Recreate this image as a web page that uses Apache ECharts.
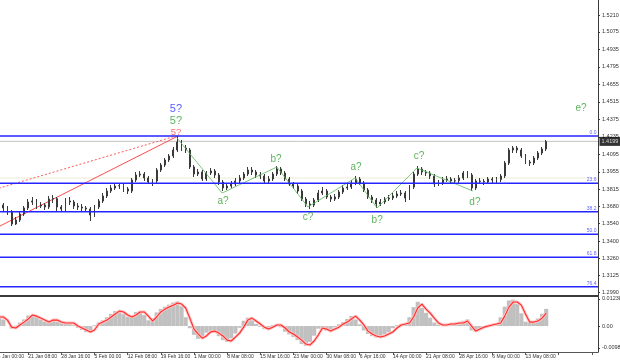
<!DOCTYPE html>
<html><head><meta charset="utf-8">
<script src="https://cdn.jsdelivr.net/npm/echarts@6/dist/echarts.min.js"></script>
<style>html,body{margin:0;padding:0;background:#fff}#c{width:620px;height:361px}</style>
</head><body><div id="c"></div>
<script>
// ---- data (16-hour slots; slot 0 = 14 Jan 00:00) ----
const tickLabels = ['14 Jan 00:00','21 Jan 08:00','28 Jan 16:00','5 Feb 00:00','12 Feb 08:00','19 Feb 16:00','1 Mar 00:00','8 Mar 08:00','15 Mar 16:00','23 Mar 00:00','30 Mar 08:00','6 Apr 16:00','14 Apr 00:00','21 Apr 08:00','28 Apr 16:00','6 May 00:00','13 May 08:00'];
const slotCount = 146;
const priceLabels = ['1.5210','1.5075','1.4935','1.4795','1.4655','1.4515','1.4375','1.4235','1.4095','1.3955','1.3815','1.3680','1.3540','1.3400','1.3260','1.3125','1.2990'];
const oscLabels = ['0.01238','0.00','-0.00988'];
const oscTicks = [0.01238, 0, -0.00988];

const opens = [1.3706,1.3690,1.3666,1.3634,1.3538,1.3570,1.3618,1.3666,1.3714,1.3722,
1.3682,1.3690,1.3674,1.3738,1.3741,1.3674,1.3658,1.3722,1.3714,1.3682,
1.3674,1.3666,1.3658,1.3610,1.3674,1.3722,1.3762,1.3802,1.3826,1.3842,
1.3845,1.3818,1.3802,1.3890,1.3930,1.3938,1.3906,1.3874,1.3882,1.3970,
1.4010,1.4050,1.4082,1.4130,1.4194,1.4146,1.4130,1.3994,1.3938,1.3954,
1.3898,1.3946,1.3962,1.3930,1.3874,1.3826,1.3842,1.3858,1.3882,1.3906,
1.3938,1.3970,1.3954,1.3930,1.3922,1.3882,1.3898,1.3938,1.3978,1.3946,
1.3898,1.3858,1.3842,1.3802,1.3738,1.3698,1.3690,1.3730,1.3786,1.3802,
1.3754,1.3738,1.3754,1.3794,1.3826,1.3834,1.3866,1.3898,1.3866,1.3810,
1.3754,1.3730,1.3698,1.3714,1.3738,1.3746,1.3762,1.3778,1.3786,1.3746,
1.3834,1.3938,1.3978,1.3954,1.3946,1.3922,1.3858,1.3866,1.3890,1.3898,
1.3882,1.3885,1.3906,1.3946,1.3930,1.3826,1.3882,1.3879,1.3874,1.3898,
1.3890,1.3893,1.3922,1.4026,1.4130,1.4146,1.4130,1.4082,1.4034,1.4026,
1.4066,1.4106,1.4138];
const closes = [1.3690,1.3666,1.3634,1.3538,1.3570,1.3618,1.3666,1.3714,1.3722,1.3682,
1.3690,1.3674,1.3738,1.3741,1.3674,1.3658,1.3722,1.3714,1.3682,1.3674,
1.3666,1.3658,1.3610,1.3674,1.3722,1.3762,1.3802,1.3826,1.3842,1.3845,
1.3818,1.3802,1.3890,1.3930,1.3938,1.3906,1.3874,1.3882,1.3970,1.4010,
1.4050,1.4082,1.4130,1.4194,1.4146,1.4130,1.3994,1.3938,1.3954,1.3898,
1.3946,1.3962,1.3930,1.3874,1.3826,1.3842,1.3858,1.3882,1.3906,1.3938,
1.3970,1.3954,1.3930,1.3922,1.3882,1.3898,1.3938,1.3978,1.3946,1.3898,
1.3858,1.3842,1.3802,1.3738,1.3698,1.3690,1.3730,1.3786,1.3802,1.3754,
1.3738,1.3754,1.3794,1.3826,1.3834,1.3866,1.3898,1.3866,1.3810,1.3754,
1.3730,1.3698,1.3714,1.3738,1.3746,1.3762,1.3778,1.3786,1.3746,1.3834,
1.3938,1.3978,1.3954,1.3946,1.3922,1.3858,1.3866,1.3890,1.3898,1.3882,
1.3885,1.3906,1.3946,1.3930,1.3826,1.3882,1.3879,1.3874,1.3898,1.3890,
1.3893,1.3922,1.4026,1.4130,1.4146,1.4130,1.4082,1.4034,1.4026,1.4066,
1.4106,1.4138,1.4199];
const highs = [1.3730,1.3706,1.3682,1.3650,1.3594,1.3634,1.3682,1.3738,1.3754,1.3738,
1.3714,1.3706,1.3762,1.3770,1.3754,1.3690,1.3746,1.3754,1.3730,1.3706,
1.3698,1.3682,1.3674,1.3690,1.3738,1.3786,1.3826,1.3850,1.3866,1.3866,
1.3858,1.3834,1.3906,1.3954,1.3962,1.3954,1.3922,1.3898,1.3986,1.4026,
1.4066,1.4098,1.4154,1.4242,1.4210,1.4170,1.4146,1.4010,1.3978,1.3970,
1.3962,1.3986,1.3978,1.3946,1.3890,1.3858,1.3882,1.3906,1.3930,1.3954,
1.3994,1.3994,1.3970,1.3954,1.3938,1.3922,1.3954,1.4002,1.3994,1.3962,
1.3914,1.3874,1.3858,1.3818,1.3754,1.3722,1.3746,1.3810,1.3834,1.3818,
1.3770,1.3778,1.3810,1.3850,1.3858,1.3890,1.3922,1.3914,1.3882,1.3826,
1.3770,1.3746,1.3738,1.3754,1.3770,1.3786,1.3802,1.3810,1.3802,1.3850,
1.3954,1.4002,1.3994,1.3970,1.3962,1.3938,1.3890,1.3914,1.3922,1.3914,
1.3906,1.3930,1.3962,1.3962,1.3946,1.3898,1.3906,1.3898,1.3914,1.3914,
1.3914,1.3938,1.4042,1.4146,1.4162,1.4162,1.4146,1.4098,1.4050,1.4082,
1.4122,1.4154,1.4210];
const lows = [1.3674,1.3642,1.3610,1.3522,1.3530,1.3554,1.3602,1.3650,1.3690,1.3658,
1.3666,1.3650,1.3658,1.3706,1.3642,1.3634,1.3642,1.3690,1.3658,1.3650,
1.3642,1.3634,1.3562,1.3594,1.3658,1.3706,1.3746,1.3786,1.3810,1.3818,
1.3794,1.3778,1.3786,1.3874,1.3914,1.3882,1.3858,1.3842,1.3866,1.3954,
1.3994,1.4034,1.4066,1.4114,1.4122,1.4106,1.3978,1.3914,1.3922,1.3882,
1.3882,1.3930,1.3906,1.3850,1.3802,1.3810,1.3826,1.3842,1.3866,1.3890,
1.3922,1.3930,1.3906,1.3898,1.3858,1.3866,1.3882,1.3922,1.3930,1.3882,
1.3842,1.3818,1.3778,1.3722,1.3674,1.3658,1.3674,1.3714,1.3770,1.3738,
1.3714,1.3722,1.3738,1.3778,1.3810,1.3818,1.3850,1.3850,1.3794,1.3738,
1.3706,1.3666,1.3682,1.3698,1.3722,1.3730,1.3746,1.3762,1.3714,1.3730,
1.3818,1.3922,1.3930,1.3922,1.3898,1.3834,1.3842,1.3850,1.3874,1.3858,
1.3858,1.3866,1.3890,1.3906,1.3802,1.3810,1.3858,1.3850,1.3858,1.3866,
1.3866,1.3874,1.3906,1.4010,1.4106,1.4106,1.4066,1.4018,1.4002,1.4010,
1.4050,1.4090,1.4122];

const hist = [0.0041,0.0030,0.0000,-0.0012,0.0002,0.0016,0.0030,0.0048,0.0050,0.0040,
0.0030,0.0020,0.0026,0.0030,0.0020,0.0015,0.0014,0.0015,0.0004,-0.0008,
-0.0018,-0.0028,-0.0024,0.0004,0.0016,0.0026,0.0040,0.0055,0.0068,0.0070,
0.0054,0.0042,0.0048,0.0064,0.0068,0.0050,0.0026,0.0036,0.0062,0.0078,
0.0088,0.0097,0.0107,0.0112,0.0090,0.0040,-0.0010,-0.0040,-0.0058,-0.0050,
-0.0030,-0.0022,-0.0030,-0.0046,-0.0064,-0.0072,-0.0056,-0.0034,-0.0008,0.0024,
0.0038,0.0026,0.0010,-0.0004,-0.0014,-0.0008,0.0004,0.0006,-0.0006,-0.0026,
-0.0038,-0.0050,-0.0064,-0.0082,-0.0090,-0.0072,-0.0044,-0.0012,-0.0012,-0.0022,
-0.0016,-0.0006,0.0008,0.0018,0.0032,0.0046,0.0030,0.0008,-0.0020,-0.0036,
-0.0046,-0.0052,-0.0046,-0.0038,-0.0028,-0.0010,0.0004,0.0009,0.0012,0.0040,
0.0086,0.0110,0.0082,0.0060,0.0038,0.0016,0.0006,0.0004,0.0008,0.0009,
0.0013,0.0014,0.0024,0.0030,-0.0020,-0.0026,-0.0010,-0.0002,0.0004,0.0008,
0.0012,0.0040,0.0088,0.0116,0.0120,0.0100,0.0058,0.0020,0.0016,0.0022,
0.0034,0.0056,0.0078];
const signal = [0.0041,0.0041,0.0027,-0.0005,-0.0009,0.0005,0.0018,0.0032,0.0050,0.0045,
0.0036,0.0027,0.0018,0.0027,0.0027,0.0018,0.0014,0.0014,0.0014,0.0000,
-0.0009,-0.0018,-0.0027,-0.0018,0.0009,0.0018,0.0027,0.0041,0.0055,0.0068,
0.0064,0.0050,0.0041,0.0050,0.0064,0.0064,0.0045,0.0023,0.0041,0.0064,
0.0077,0.0086,0.0095,0.0105,0.0100,0.0082,0.0036,-0.0014,-0.0036,-0.0055,
-0.0045,-0.0027,-0.0023,-0.0032,-0.0045,-0.0064,-0.0068,-0.0050,-0.0032,-0.0005,
0.0027,0.0036,0.0023,0.0009,-0.0005,-0.0014,-0.0005,0.0005,0.0005,-0.0009,
-0.0027,-0.0036,-0.0050,-0.0064,-0.0082,-0.0086,-0.0068,-0.0041,-0.0009,-0.0014,
-0.0023,-0.0014,-0.0005,0.0009,0.0018,0.0032,0.0045,0.0027,0.0005,-0.0023,
-0.0036,-0.0045,-0.0050,-0.0045,-0.0036,-0.0027,-0.0009,0.0005,0.0009,0.0014,
0.0041,0.0082,0.0100,0.0077,0.0059,0.0036,0.0014,0.0005,0.0005,0.0009,
0.0009,0.0014,0.0014,0.0023,0.0000,-0.0023,-0.0014,-0.0005,0.0000,0.0005,
0.0009,0.0014,0.0045,0.0086,0.0109,0.0109,0.0095,0.0055,0.0018,0.0018,
0.0023,0.0036,0.0059];

const bidPrice = 1.4199;
const fibLevels = [1.4242, 1.3864, 1.3636, 1.3456, 1.3272, 1.3036];
const fibNames = ['0.0','23.6','38.2','50.0','61.8','76.4'];
const guidePrice = 1.3906;

// wave annotations (x in slot units)
const waveX = [43.9, 54.8, 68.0, 75.5, 86.9, 92.2, 101.8, 115.3];
const waveY = [1.4226, 1.3786, 1.3994, 1.3674, 1.3906, 1.3666, 1.3986, 1.3802];
const trendSolidX = [0, 44.15], trendSolidY = [1.3502, 1.4242];
const trendDotX = [0, 43.66], trendDotY = [1.3815, 1.4242];
const labelText = ['5?','5?','5?','a?','b?','c?','a?','b?','c?','d?','e?'];
const labelX = [43.66,43.66,43.66,55.0,67.8,75.5,87.1,92.2,102.3,115.8,141.4];
const labelY = [1.4458,1.4362,1.4274,1.3722,1.4058,1.3594,1.3994,1.3570,1.4082,1.3714,1.4466];
const labelKind = ['blue','green','red','green','green','green','green','green','green','green','green'];

// ---- build ----
const FONT = 'Liberation Sans';
const colors = {blue:'#2f2fff', green:'#35a035', red:'#ff4a4a'};
const xLo = -0.5, xHi = slotCount - 0.5;
const cats = [];
for (let i = 0; i < slotCount; i++) cats.push(i % 8 === 0 && tickLabels[i/8] ? tickLabels[i/8] : '');
const candle = ['-'];
for (let i = 0; i < closes.length; i++) candle.push([opens[i], closes[i], lows[i], highs[i]]);
const histData = ['-'].concat(hist);
const sigData = ['-'].concat(signal);
const wave = waveX.map((x,i)=>[x, waveY[i]]);
const trendSolid = trendSolidX.map((x,i)=>[x, trendSolidY[i]]);
const trendDot = trendDotX.map((x,i)=>[x, trendDotY[i]]);
const labels = labelText.map((t,i)=>({value:[labelX[i], labelY[i]], name:t,
  label:{color: colors[labelKind[i]], fontSize: i < 2 ? 11 : (i === 2 ? 9.5 : 10)}}));

function hline(v, color, width, z) {
  return {type:'line', xAxisIndex:2, yAxisIndex:0, data:[[xLo, v],[xHi, v]], symbol:'none', silent:true,
    lineStyle:{color:color, width:width}, z:z};
}
const levelSeries = [];
levelSeries.push(hline(guidePrice, '#ecebd6', 1, 1));
levelSeries.push(hline(bidPrice, '#c4c4c4', 1, 1));
fibLevels.forEach(v => levelSeries.push(hline(v, '#2424ff', 1.6, 6)));
const fibTags = {type:'scatter', xAxisIndex:2, yAxisIndex:0, symbolSize:1, silent:true, itemStyle:{color:'rgba(0,0,0,0)'},
  data: fibLevels.map((v,i)=>({value:[xHi, v], name: fibNames[i]})),
  label:{show:true, position:'left', distance:1, offset:[0,-3.5], formatter:(p)=>p.name, color:'#3a3aff', fontSize:5, fontFamily:FONT}, z:7};
const bidTag = {type:'scatter', xAxisIndex:2, yAxisIndex:0, symbolSize:1, silent:true, itemStyle:{color:'rgba(0,0,0,0)'},
  data:[{value:[xHi, bidPrice], name: bidPrice.toFixed(4)}],
  label:{show:true, position:'right', distance:1, formatter:(p)=>p.name, color:'#fff', backgroundColor:'#000',
    padding:[2,2,1,2], fontSize:5.5, fontFamily:FONT}, z:20};

const chart = echarts.init(document.getElementById('c'));
chart.setOption({
  animation:false,
  backgroundColor:'#fff',
  grid:[
    {left:-7, top:0, width:605, height:296, containLabel:false, outerBoundsMode:'none'},
    {left:-7, top:297, width:605, height:55, containLabel:false, outerBoundsMode:'none'}
  ],
  xAxis:[
    {type:'category', gridIndex:0, data:cats, boundaryGap:true,
      axisLine:{show:true, onZero:false, lineStyle:{color:'#3a3a3a', width:2}}, axisTick:{show:false}, axisLabel:{show:false}, splitLine:{show:false}},
    {type:'category', gridIndex:1, data:cats, boundaryGap:true,
      axisLine:{show:true, onZero:false, lineStyle:{color:'#555', width:1}},
      axisTick:{show:true, alignWithLabel:true, interval:(i)=> i % 8 === 0, length:3, lineStyle:{color:'#555'}},
      axisLabel:{show:true, interval:(i)=> i % 8 === 0, align:'left', margin:2, fontSize:5, color:'#333', fontFamily:FONT, hideOverlap:false},
      splitLine:{show:false}},
    {type:'value', gridIndex:0, min:xLo, max:xHi, show:false, axisLine:{onZero:false}}
  ],
  yAxis:[
    {type:'value', gridIndex:0, position:'right', min:1.2962, max:1.5330,
      axisLine:{show:true, onZero:false, lineStyle:{color:'#3a3a3a', width:1}},
      axisTick:{show:true, length:2, customValues: priceLabels.map(Number), lineStyle:{color:'#3a3a3a'}},
      axisLabel:{show:true, customValues: priceLabels.map(Number), formatter:(v)=>v.toFixed(4), fontSize:5.5, color:'#333', margin:4, fontFamily:FONT},
      splitLine:{show:false}},
    {type:'value', gridIndex:1, position:'right', min:-0.0118, max:0.0132,
      axisLine:{show:true, onZero:false, lineStyle:{color:'#3a3a3a', width:1}},
      axisTick:{show:true, length:2, customValues: oscTicks, lineStyle:{color:'#3a3a3a'}},
      axisLabel:{show:true, customValues: oscTicks, formatter:(v)=>{
          let k=0; oscTicks.forEach((x,j)=>{ if(Math.abs(x-v)<Math.abs(oscTicks[k]-v)) k=j; }); return oscLabels[k]; },
        fontSize:5.5, color:'#333', margin:4, fontFamily:FONT},
      splitLine:{show:false}}
  ],
  series: levelSeries.concat([
    {type:'line', xAxisIndex:2, yAxisIndex:0, data:trendDot, symbol:'none', silent:true,
      lineStyle:{color:'#ff5a5a', width:1, type:[2,2]}, z:2},
    {type:'line', xAxisIndex:2, yAxisIndex:0, data:trendSolid, symbol:'none', silent:true,
      lineStyle:{color:'#ff4c4c', width:1}, z:2},
    {type:'candlestick', xAxisIndex:0, yAxisIndex:0, data:candle, barWidth:1.4,
      itemStyle:{color:'#8a8a8a', color0:'#505050', borderColor:'#3a3a3a', borderColor0:'#3a3a3a', borderWidth:1}, z:3},
    {type:'line', xAxisIndex:2, yAxisIndex:0, data:wave, symbol:'none', silent:true,
      lineStyle:{color:'#5cb85c', width:0.8}, z:4},
    {type:'scatter', xAxisIndex:2, yAxisIndex:0, data:labels, symbolSize:1, silent:true,
      itemStyle:{color:'rgba(0,0,0,0)'},
      label:{show:true, position:'inside', formatter:(p)=>p.name, fontFamily:FONT, fontSize:10}, z:8},
    fibTags, bidTag,
    {type:'bar', xAxisIndex:1, yAxisIndex:1, data:histData, barCategoryGap:'0%',
      itemStyle:{color:'#c0c0c0'}, silent:true},
    {type:'line', xAxisIndex:1, yAxisIndex:1, data:sigData, symbol:'none', silent:true,
      lineStyle:{color:'#ffc4c4', width:3}, z:3},
    {type:'line', xAxisIndex:1, yAxisIndex:1, data:sigData, symbol:'none', silent:true,
      lineStyle:{color:'#ff2a2a', width:1.1}, z:4}
  ])
});
</script></body></html>
